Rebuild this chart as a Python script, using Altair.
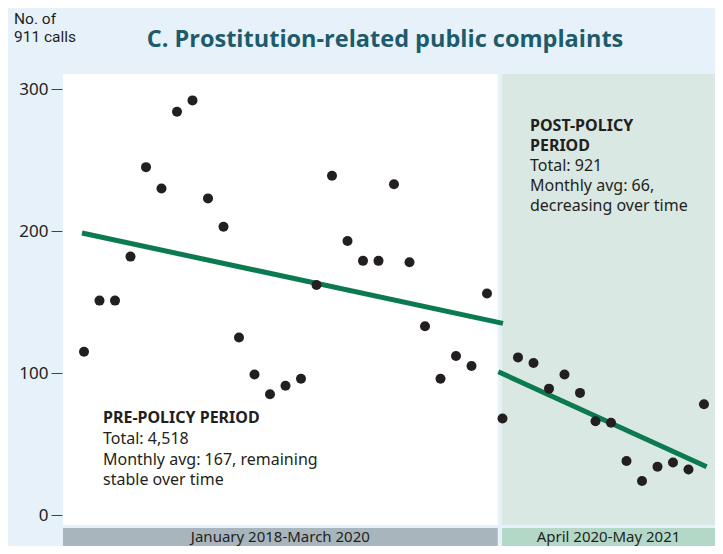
import altair as alt
import pandas as pd

# ---- data ----
pre_values = [115, 151, 151, 182, 245, 230, 284, 292, 223, 203, 125, 99, 85, 91, 96,
              162, 239, 193, 179, 179, 233, 178, 133, 96, 112, 105, 156]
post_values = [68, 111, 107, 89, 99, 86, 66, 65, 38, 24, 34, 37, 32, 78]

# trend line endpoints (month index, calls)
pre_trend_x = [0.87, 28.03]
pre_trend_y = [198.6, 135.0]
post_trend_x = [27.73, 41.17]
post_trend_y = [100.9, 34.0]

region_names = ["pre", "post"]
region_start = [-0.355, 27.97]
region_end = [27.69, 41.71]
region_fill = ["#ffffff", "#d9e8e2"]
band_fill = ["#a9b5bd", "#b3d8c7"]
band_labels = ["January 2018-March 2020", "April 2020-May 2021"]

y_ticks = [0, 100, 200, 300]

# ---- tables ----
values = pre_values + post_values
points = pd.DataFrame({"m": list(range(1, len(values) + 1)), "v": values})
trend = pd.DataFrame({
    "m": pre_trend_x + post_trend_x,
    "v": pre_trend_y + post_trend_y,
    "seg": ["pre", "pre", "post", "post"],
})
regions = pd.DataFrame({
    "name": region_names, "x0": region_start, "x1": region_end,
    "fill": region_fill, "band": band_fill, "label": band_labels,
    "mid": [(a + b) / 2 for a, b in zip(region_start, region_end)],
})

W, H = 652, 451
xscale = alt.Scale(domain=[-0.355, 41.71], nice=False, zero=False)
yscale = alt.Scale(domain=[-7.04, 310.6], nice=False, zero=False)
yaxis = alt.Axis(values=y_ticks, domain=False, grid=False, tickSize=11,
                 tickColor="#444444", tickWidth=1, offset=1, labelPadding=3,
                 labelFont="Noto Sans", labelFontSize=17, labelColor="#231f20",
                 title=None)

reg = alt.Chart(regions).mark_rect().encode(
    x=alt.X("x0:Q", scale=xscale, axis=None), x2="x1:Q",
    y=alt.value(0), y2=alt.value(H),
    color=alt.Color("fill:N", scale=None),
)
band = alt.Chart(regions).mark_rect().encode(
    x=alt.X("x0:Q", scale=xscale, axis=None), x2="x1:Q",
    y=alt.value(454), y2=alt.value(472),
    color=alt.Color("band:N", scale=None),
)
band_text = alt.Chart(regions).mark_text(
    font="Noto Sans", fontSize=15, color="#231f20", baseline="middle", align="center"
).encode(
    x=alt.X("mid:Q", scale=xscale, axis=None), y=alt.value(463), text="label:N"
)

lines = alt.Chart(trend).mark_line(strokeWidth=5, color="#0b7a50", strokeCap="butt").encode(
    x=alt.X("m:Q", scale=xscale, axis=None),
    y=alt.Y("v:Q", scale=yscale, axis=yaxis),
    detail="seg:N",
)

pts = alt.Chart(points).mark_circle(size=100, color="#231f20", opacity=1).encode(
    x=alt.X("m:Q", scale=xscale, axis=None),
    y=alt.Y("v:Q", scale=yscale, axis=yaxis),
)

def txt(s, x, y, size=16, bold=False, font="Noto Sans", color="#231f20", align="left"):
    return alt.Chart(pd.DataFrame({"t": [s]})).mark_text(
        font=font, fontSize=size, fontWeight="bold" if bold else "normal",
        color=color, align=align, baseline="middle"
    ).encode(x=alt.value(x), y=alt.value(y), text="t:N")

texts = [
    txt("No. of", -49, -55, size=15.5, font="Roboto"),
    txt("911 calls", -49, -37, size=15.5, font="Roboto"),
    txt("C.  Prostitution-related public complaints", 322, -34, size=23.5, bold=True,
        font="Open Sans", color="#1d5b6c", align="center"),
    txt("PRE-POLICY PERIOD", 40, 344, bold=True),
    txt("Total: 4,518", 40, 365),
    txt("Monthly avg: 167, remaining", 40, 386),
    txt("stable over time", 40, 406),
    txt("POST-POLICY", 467, 52, bold=True),
    txt("PERIOD", 467, 72, bold=True),
    txt("Total: 921", 467, 92),
    txt("Monthly avg: 66,", 467, 112),
    txt("decreasing over time", 467, 132),
]

chart = alt.layer(reg, band, band_text, lines, pts, *texts).properties(
    width=W, height=H,
    autosize="none",
    padding={"left": 55, "top": 66, "right": 0, "bottom": 21},
    background="#e6f1fa",
).configure_view(stroke=None)

chart.save("out.html", embed_options={"renderer": "svg", "actions": False})
